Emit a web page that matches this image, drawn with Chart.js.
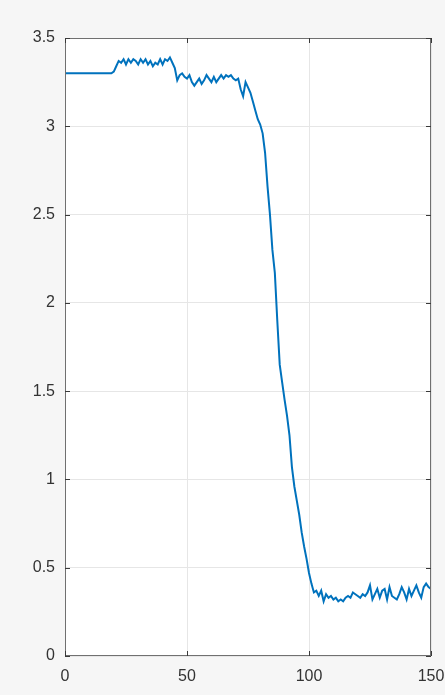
<!DOCTYPE html>
<html>
<head>
<meta charset="utf-8">
<script src="https://cdn.jsdelivr.net/npm/chart.js@4/dist/chart.umd.min.js"></script>
<style>
  html, body { margin: 0; padding: 0; background: #f6f6f6; }
  #wrap { width: 445px; height: 695px; position: relative; }
</style>
</head>
<body>
<div id="wrap"><canvas id="c" width="445" height="695"></canvas></div>
<script>
// Sample index (0..150)
const xValues = Array.from({ length: 151 }, (_, i) => i);

// Measured signal
const signal = [
  3.30, 3.30, 3.30, 3.30, 3.30, 3.30, 3.30, 3.30, 3.30, 3.30,
  3.30, 3.30, 3.30, 3.30, 3.30, 3.30, 3.30, 3.30, 3.30, 3.30,
  3.31, 3.34, 3.37, 3.36, 3.38, 3.35, 3.38, 3.36, 3.38, 3.37,
  3.35, 3.38, 3.36, 3.38, 3.35, 3.37, 3.34, 3.36, 3.35, 3.38,
  3.35, 3.38, 3.37, 3.39, 3.36, 3.33, 3.26, 3.29, 3.30, 3.28,
  3.27, 3.29, 3.25, 3.23, 3.25, 3.27, 3.24, 3.26, 3.29, 3.27,
  3.25, 3.28, 3.25, 3.27, 3.29, 3.27, 3.29, 3.28, 3.29, 3.27,
  3.26, 3.27, 3.21, 3.17, 3.25, 3.22, 3.19, 3.14, 3.09, 3.04,
  3.01, 2.96, 2.85, 2.66, 2.50, 2.30, 2.17, 1.90, 1.65, 1.55,
  1.45, 1.36, 1.25, 1.07, 0.96, 0.88, 0.80, 0.70, 0.62, 0.55,
  0.47, 0.41, 0.36, 0.37, 0.34, 0.37, 0.31, 0.35, 0.33, 0.34,
  0.32, 0.33, 0.31, 0.32, 0.31, 0.33, 0.34, 0.33, 0.36, 0.35,
  0.34, 0.33, 0.35, 0.34, 0.36, 0.40, 0.32, 0.35, 0.38, 0.33,
  0.37, 0.38, 0.32, 0.39, 0.34, 0.33, 0.32, 0.35, 0.39, 0.36,
  0.32, 0.38, 0.34, 0.37, 0.40, 0.36, 0.33, 0.39, 0.41, 0.39,
  0.38
];

// Axis tick positions and their labels
const xTicks = [0, 50, 100, 150];
const xTickLabels = ['0', '50', '100', '150'];
const yTicks = [0, 0.5, 1, 1.5, 2, 2.5, 3, 3.5];
const yTickLabels = ['0', '0.5', '1', '1.5', '2', '2.5', '3', '3.5'];

const points = xValues.map((x, i) => ({ x: x, y: signal[i] }));

const labelFont = '16px "Liberation Sans", Arial, Helvetica, sans-serif';

// White plot area, frame, inward ticks on all four sides and tick labels
const framePlugin = {
  id: 'frame',
  beforeDraw(chart) {
    const { ctx, chartArea: a } = chart;
    ctx.save();
    ctx.fillStyle = '#ffffff';
    ctx.fillRect(a.left, a.top, a.right - a.left, a.bottom - a.top);
    ctx.restore();
  },
  afterDraw(chart) {
    const { ctx, chartArea: a, scales } = chart;
    const len = 5;
    ctx.save();
    ctx.strokeStyle = '#707070';
    ctx.lineWidth = 1;
    ctx.strokeRect(a.left + 0.5, a.top + 0.5, a.right - a.left - 1, a.bottom - a.top - 1);
    ctx.strokeStyle = '#3a3a3a';
    ctx.beginPath();
    xTicks.forEach(v => {
      const px = Math.round(scales.x.getPixelForValue(v)) + 0.5;
      ctx.moveTo(px, a.bottom); ctx.lineTo(px, a.bottom - len);
      ctx.moveTo(px, a.top); ctx.lineTo(px, a.top + len);
    });
    yTicks.forEach(v => {
      const py = Math.round(scales.y.getPixelForValue(v)) + 0.5;
      ctx.moveTo(a.left, py); ctx.lineTo(a.left + len, py);
      ctx.moveTo(a.right, py); ctx.lineTo(a.right - len, py);
    });
    ctx.stroke();

    ctx.fillStyle = '#333333';
    ctx.font = labelFont;
    ctx.textAlign = 'right';
    ctx.textBaseline = 'middle';
    yTicks.forEach((v, i) => {
      ctx.fillText(yTickLabels[i], a.left - 10, scales.y.getPixelForValue(v));
    });
    ctx.textAlign = 'center';
    ctx.textBaseline = 'top';
    xTicks.forEach((v, i) => {
      ctx.fillText(xTickLabels[i], scales.x.getPixelForValue(v), a.bottom + 13);
    });
    ctx.restore();
  }
};

new Chart(document.getElementById('c'), {
  type: 'line',
  data: {
    datasets: [{
      data: points,
      borderColor: '#0072BD',
      borderWidth: 2,
      pointRadius: 0,
      tension: 0,
      fill: false
    }]
  },
  options: {
    responsive: false,
    animation: false,
    events: [],
    layout: { padding: { left: 0, top: 38, right: 14, bottom: 0 } },
    plugins: { legend: { display: false }, tooltip: { enabled: false } },
    scales: {
      x: {
        type: 'linear',
        min: 0, max: 150,
        afterBuildTicks: s => { s.ticks = xTicks.map(v => ({ value: v })); },
        afterFit: s => { s.height = 39; },
        grid: { color: '#e6e6e6', drawTicks: false },
        border: { display: false },
        ticks: { display: false }
      },
      y: {
        type: 'linear',
        min: 0, max: 3.5,
        afterBuildTicks: s => { s.ticks = yTicks.map(v => ({ value: v })); },
        afterFit: s => { s.width = 65; },
        grid: { color: '#e6e6e6', drawTicks: false },
        border: { display: false },
        ticks: { display: false }
      }
    }
  },
  plugins: [framePlugin]
});
</script>
</body>
</html>
